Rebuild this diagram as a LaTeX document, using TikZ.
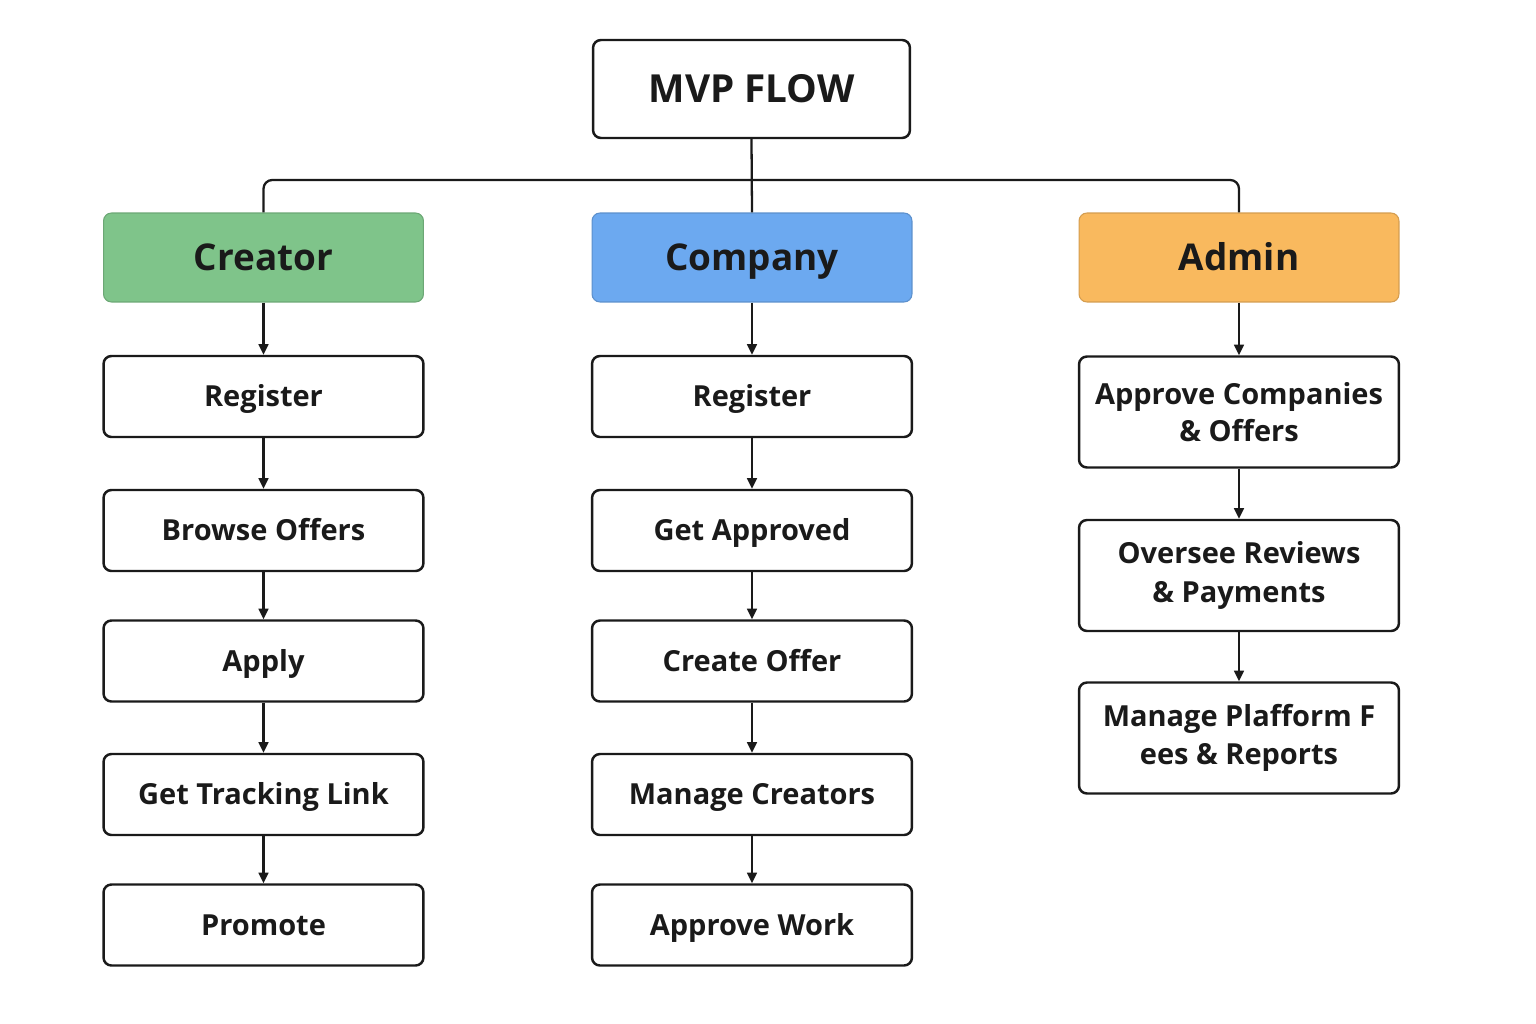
\documentclass[tikz,border=0pt]{standalone}
\usepackage{fontspec}
\setmainfont{Open Sans}
\usepackage{xcolor}
\definecolor{crgreen}{HTML}{7FC48A}
\definecolor{cpblue}{HTML}{6CA9F0}
\definecolor{adorange}{HTML}{F9B95E}
\definecolor{inkline}{HTML}{1A1A1A}
\usetikzlibrary{arrows.meta,positioning}

\begin{document}
\begin{tikzpicture}[
    x=0.02cm, y=-0.02cm,
    stepbox/.style={rectangle, draw=inkline, line width=1.4pt, fill=white,
                    rounded corners=4.5pt, minimum width=6.4cm, minimum height=1.62cm,
                    font=\fontsize{16.5}{20}\selectfont\bfseries, text=inkline,
                    align=center, inner sep=2pt, text height=12pt, text depth=0.5pt},
    tallbox/.style={stepbox, minimum height=2.22cm, text height=, text depth=},
    rolebox/.style={rectangle, rounded corners=4.5pt, line width=0.6pt,
                    minimum width=6.4cm, minimum height=1.78cm,
                    text height=15pt, text depth=0pt,
                    font=\fontsize{21}{25}\selectfont\bfseries, text=inkline},
    flow/.style={-{Triangle[length=6pt,width=5.5pt]}, line width=1.3pt, draw=inkline},
    link/.style={line width=1.3pt, draw=inkline}
  ]
    \useasboundingbox (0,0) rectangle (1536,1024);

    % Title
    \node[stepbox, minimum width=6.34cm, minimum height=1.96cm, text height=15.6pt, text depth=0pt,
          font=\fontsize{22}{26}\selectfont\bfseries] (mvp) at (751.5,89) {MVP FLOW};

    % Roles
    \node[rolebox, fill=crgreen, draw=crgreen!85!black] (creator) at (263.5,257.5) {Creator};
    \node[rolebox, fill=cpblue, draw=cpblue!85!black] (company) at (752,257.5) {Company};
    \node[rolebox, fill=adorange, draw=adorange!85!black] (admin) at (1239,257.5) {Admin};

    % Bus from title to roles
    \coordinate (bus) at (752,180);
    \draw[link] (mvp.south) -- (company.north);
    \draw[link, rounded corners=5pt] (creator.north) |- (bus) -| (admin.north);

    % Creator steps
    \node[stepbox] (cr1) at (263.5,396.5) {Register};
    \node[stepbox] (cr2) at (263.5,530.5) {Browse Offers};
    \node[stepbox] (cr3) at (263.5,661) {Apply};
    \node[stepbox] (cr4) at (263.5,794.5) {Get Tracking Link};
    \node[stepbox] (cr5) at (263.5,925) {Promote};

    % Company steps
    \node[stepbox] (cp1) at (752,396.5) {Register};
    \node[stepbox] (cp2) at (752,530.5) {Get Approved};
    \node[stepbox] (cp3) at (752,661) {Create Offer};
    \node[stepbox] (cp4) at (752,794.5) {Manage Creators};
    \node[stepbox] (cp5) at (752,925) {Approve Work};

    % Admin steps
    \node[tallbox] (ad1) at (1239,412) {Approve Companies\\[1pt]\& Offers};
    \node[tallbox] (ad2) at (1239,575.5) {Oversee Reviews\\[2pt]\& Payments};
    \node[tallbox] (ad3) at (1239,738) {Manage Plafform F\\[2pt]ees \& Reports};

    % Arrows
    \draw[flow] (creator) -- (cr1);
    \draw[flow] (cr1) -- (cr2);
    \draw[flow] (cr2) -- (cr3);
    \draw[flow] (cr3) -- (cr4);
    \draw[flow] (cr4) -- (cr5);

    \draw[flow] (company) -- (cp1);
    \draw[flow] (cp1) -- (cp2);
    \draw[flow] (cp2) -- (cp3);
    \draw[flow] (cp3) -- (cp4);
    \draw[flow] (cp4) -- (cp5);

    \draw[flow] (admin) -- (ad1);
    \draw[flow] (ad1) -- (ad2);
    \draw[flow] (ad2) -- (ad3);
  \end{tikzpicture}
\end{document}
